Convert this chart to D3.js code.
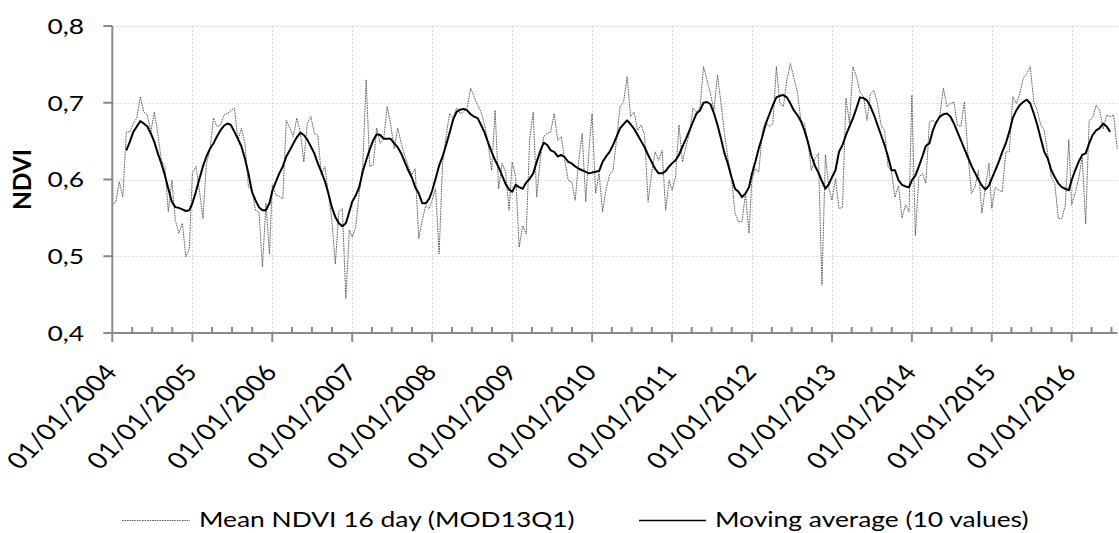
<!DOCTYPE html>
<html>
<head>
<meta charset="utf-8">
<script src="https://cdn.jsdelivr.net/npm/d3@7"></script>
<style>
  html, body { margin: 0; padding: 0; background: #ffffff; }
  svg { display: block; font-family: Lato, "Open Sans", sans-serif; }
</style>
</head>
<body>
<svg id="chart" width="1119" height="533"></svg>
<script>
// ---- Data ----
// Mean NDVI, 16-day MODIS composites (23 per year, day-of-year 1, 17, 33, ...)
const firstYear = 2004;
const compositesPerYear = 23;
const ndviValues = [
  // 2004
  0.567,0.571,0.597,0.577,0.662,0.662,0.673,0.680,0.708,0.688,0.684,0.662,0.688,0.660,0.625,0.617,0.558,0.599,0.547,0.530,0.543,0.499,0.510,
  // 2005
  0.608,0.617,0.586,0.549,0.621,0.638,0.680,0.669,0.671,0.684,0.686,0.690,0.693,0.651,0.667,0.647,0.590,0.588,0.560,0.558,0.486,0.569,0.503,
  // 2006
  0.593,0.580,0.578,0.575,0.677,0.667,0.656,0.680,0.662,0.623,0.673,0.682,0.660,0.658,0.606,0.617,0.582,0.547,0.490,0.558,0.562,0.445,0.534,
  // 2007
  0.525,0.538,0.582,0.617,0.730,0.617,0.619,0.667,0.647,0.653,0.695,0.671,0.640,0.667,0.647,0.632,0.617,0.606,0.614,0.523,0.547,0.566,0.562,
  // 2008
  0.573,0.588,0.503,0.621,0.656,0.686,0.680,0.693,0.686,0.688,0.693,0.719,0.708,0.697,0.688,0.671,0.647,0.612,0.690,0.588,0.621,0.610,0.560,
  // 2009
  0.623,0.603,0.512,0.540,0.529,0.653,0.688,0.577,0.626,0.656,0.660,0.662,0.686,0.651,0.656,0.625,0.599,0.597,0.573,0.625,0.660,0.571,0.643,
  // 2010
  0.686,0.582,0.608,0.558,0.588,0.606,0.612,0.653,0.695,0.701,0.734,0.682,0.688,0.664,0.671,0.658,0.571,0.608,0.636,0.625,0.638,0.560,0.599,
  // 2011
  0.586,0.603,0.671,0.623,0.643,0.660,0.693,0.688,0.693,0.747,0.730,0.712,0.690,0.736,0.699,0.660,0.627,0.603,0.556,0.545,0.545,0.582,0.530,
  // 2012
  0.599,0.614,0.610,0.664,0.675,0.669,0.673,0.747,0.699,0.695,0.730,0.751,0.732,0.714,0.677,0.673,0.649,0.612,0.627,0.634,0.462,0.632,0.588,
  // 2013
  0.573,0.601,0.562,0.564,0.706,0.673,0.747,0.734,0.714,0.708,0.677,0.712,0.716,0.699,0.671,0.664,0.617,0.610,0.577,0.592,0.550,0.567,0.558,
  // 2014
  0.710,0.527,0.603,0.608,0.595,0.675,0.677,0.673,0.684,0.719,0.695,0.699,0.701,0.671,0.669,0.701,0.634,0.582,0.590,0.612,0.556,0.590,0.621,
  // 2015
  0.562,0.590,0.586,0.584,0.636,0.636,0.708,0.699,0.712,0.732,0.738,0.747,0.701,0.690,0.671,0.664,0.632,0.603,0.595,0.549,0.549,0.567,0.652,
  // 2016
  0.567,0.582,0.601,0.629,0.542,0.677,0.680,0.697,0.690,0.666,0.684,0.682,0.684,0.640
];

// Moving average (10 values); starts at the 5th composite
const movingAvgStart = 4;
const movingAvgValues = [
  // 2004 (from 5th composite)
  0.638,0.649,0.662,0.669,0.676,0.673,0.669,0.660,0.649,0.634,0.621,0.606,0.588,0.571,0.564,0.563,0.561,0.559,0.560,
  // 2005
  0.569,0.584,0.601,0.617,0.630,0.640,0.647,0.656,0.664,0.670,0.673,0.671,0.662,0.653,0.643,0.627,0.608,0.584,0.573,0.564,0.560,0.560,0.569,
  // 2006
  0.585,0.597,0.608,0.617,0.630,0.638,0.647,0.655,0.661,0.658,0.652,0.643,0.634,0.621,0.610,0.598,0.582,0.564,0.551,0.543,0.539,0.543,0.558,
  // 2007
  0.571,0.579,0.590,0.610,0.625,0.639,0.651,0.659,0.658,0.653,0.653,0.653,0.647,0.642,0.634,0.623,0.612,0.603,0.590,0.582,0.569,0.569,0.575,
  // 2008
  0.585,0.601,0.618,0.630,0.645,0.661,0.678,0.688,0.691,0.692,0.690,0.685,0.682,0.680,0.671,0.661,0.648,0.636,0.625,0.616,0.605,0.594,0.587,
  // 2009
  0.584,0.593,0.590,0.588,0.596,0.601,0.608,0.623,0.637,0.648,0.645,0.638,0.636,0.630,0.632,0.629,0.623,0.621,0.617,0.614,0.612,0.610,0.608,
  // 2010
  0.609,0.610,0.611,0.623,0.630,0.636,0.645,0.656,0.667,0.672,0.677,0.672,0.666,0.658,0.650,0.642,0.632,0.623,0.614,0.608,0.608,0.611,0.617,
  // 2011
  0.621,0.625,0.632,0.643,0.653,0.664,0.675,0.686,0.690,0.700,0.701,0.698,0.686,0.671,0.653,0.634,0.620,0.603,0.588,0.584,0.577,0.582,0.590,
  // 2012
  0.607,0.623,0.641,0.656,0.673,0.685,0.697,0.707,0.709,0.710,0.707,0.699,0.690,0.684,0.676,0.664,0.649,0.631,0.618,0.609,0.598,0.588,0.594,
  // 2013
  0.603,0.612,0.636,0.645,0.658,0.669,0.680,0.693,0.707,0.706,0.703,0.695,0.684,0.671,0.658,0.645,0.630,0.612,0.612,0.599,0.593,0.591,0.590,
  // 2014
  0.599,0.605,0.617,0.630,0.644,0.647,0.664,0.675,0.682,0.685,0.686,0.682,0.673,0.662,0.651,0.640,0.629,0.618,0.609,0.600,0.592,0.587,0.592,
  // 2015
  0.601,0.612,0.623,0.636,0.647,0.662,0.680,0.690,0.697,0.701,0.704,0.699,0.686,0.671,0.653,0.636,0.627,0.612,0.603,0.595,0.590,0.588,0.586,
  // 2016
  0.599,0.612,0.623,0.632,0.634,0.647,0.658,0.664,0.667,0.673,0.669,0.662
];

const yTicks = [0.4, 0.5, 0.6, 0.7, 0.8];
const yTickLabels = ["0,4", "0,5", "0,6", "0,7", "0,8"];
const xTickLabels = ["01/01/2004","01/01/2005","01/01/2006","01/01/2007","01/01/2008","01/01/2009","01/01/2010",
                     "01/01/2011","01/01/2012","01/01/2013","01/01/2014","01/01/2015","01/01/2016"];
const seriesNames = ["Mean NDVI 16 day (MOD13Q1)", "Moving average (10 values)"];
const yTitle = "NDVI";
const axisStart = "2004-01-01";
const axisEnd = "2016-07-28";

// ---- Helpers ----
const parseLabel = d3.timeParse("%d/%m/%Y");
const parseIso = d3.timeParse("%Y-%m-%d");
function compositeDate(i) {
  const year = firstYear + Math.floor(i / compositesPerYear);
  const k = i % compositesPerYear;
  return new Date(year, 0, 1 + 16 * k);
}
const rawData = ndviValues.map((v, i) => ({ date: compositeDate(i), value: v }));
const maData = movingAvgValues.map((v, i) => ({ date: compositeDate(i + movingAvgStart), value: v }));
const tickDates = xTickLabels.map(s => parseLabel(s));

// ---- Layout ----
const svg = d3.select("#chart");
const plotLeft = 112.3, plotRight = 1117.4, plotTop = 26, plotBottom = 333;
const textStretch = 1.2;   // the reference text is horizontally widened

const x = d3.scaleTime()
  .domain([parseIso(axisStart), parseIso(axisEnd)])
  .range([plotLeft, plotRight]);
const y = d3.scaleLinear().domain([0.4, 0.8]).range([plotBottom, plotTop]);

svg.append("rect").attr("width", 1119).attr("height", 533).attr("fill", "#ffffff");

// Gridlines
const grid = svg.append("g").attr("stroke", "#d6d6d6").attr("stroke-width", 1).attr("stroke-dasharray", "2,2");
grid.selectAll("line.h").data(yTicks.filter(t => t > 0.4)).enter().append("line")
  .attr("x1", plotLeft).attr("x2", plotRight)
  .attr("y1", d => Math.round(y(d)) + 0.5).attr("y2", d => Math.round(y(d)) + 0.5);
grid.selectAll("line.v").data(tickDates.slice(1)).enter().append("line")
  .attr("x1", d => Math.round(x(d)) + 0.5).attr("x2", d => Math.round(x(d)) + 0.5)
  .attr("y1", plotTop).attr("y2", plotBottom);

// Series lines
const lineGen = d3.line().x(d => x(d.date)).y(d => y(d.value));
svg.append("path").datum(rawData)
  .attr("fill", "none").attr("stroke", "#4a4a4a").attr("stroke-width", 0.9)
  .attr("stroke-dasharray", "1.6,0.9")
  .attr("d", lineGen);
svg.append("path").datum(maData)
  .attr("fill", "none").attr("stroke", "#000000").attr("stroke-width", 2)
  .attr("stroke-linejoin", "round")
  .attr("d", lineGen);

// Axes
const axisColor = "#8a8a8a";
const axes = svg.append("g").attr("stroke", axisColor).attr("stroke-width", 2);
axes.append("line").attr("x1", plotLeft).attr("x2", plotLeft).attr("y1", plotTop).attr("y2", plotBottom);
axes.append("line").attr("x1", plotLeft - 1).attr("x2", plotRight).attr("y1", plotBottom).attr("y2", plotBottom);
axes.selectAll("line.yt").data(yTicks).enter().append("line")
  .attr("x1", plotLeft - 9).attr("x2", plotLeft)
  .attr("y1", d => y(d)).attr("y2", d => y(d));
axes.selectAll("line.xt").data(tickDates).enter().append("line")
  .attr("x1", d => x(d)).attr("x2", d => x(d))
  .attr("y1", plotBottom).attr("y2", plotBottom + 9);
const minorDates = d3.timeMonth.every(3).range(x.domain()[0], x.domain()[1]).filter(d => d.getMonth() !== 0);
axes.selectAll("line.xm").data(minorDates).enter().append("line")
  .attr("x1", d => x(d)).attr("x2", d => x(d))
  .attr("y1", plotBottom - 6).attr("y2", plotBottom);

// Y tick labels
svg.append("g").selectAll("text").data(yTicks).enter().append("text")
  .attr("transform", d => `translate(84,${y(d)}) scale(${textStretch},1)`)
  .attr("dy", "0.36em")
  .attr("text-anchor", "end")
  .attr("font-size", 22)
  .attr("fill", "#000")
  .text((d, i) => yTickLabels[i]);

// X tick labels (rotated, appear at about 45 degrees after widening)
svg.append("g").selectAll("text").data(tickDates).enter().append("text")
  .attr("transform", d => `translate(${x(d) + 6},373) scale(${textStretch},1) rotate(-50)`)
  .attr("text-anchor", "end")
  .attr("font-size", 23)
  .attr("fill", "#000")
  .text((d, i) => xTickLabels[i]);

// Y title
svg.append("text")
  .attr("transform", `translate(31,${y(0.6)}) rotate(-90)`)
  .attr("text-anchor", "middle")
  .attr("font-size", 24.5)
  .attr("font-weight", "bold")
  .attr("fill", "#000")
  .text(yTitle);

// Legend
const legend = svg.append("g");
legend.append("line").attr("x1", 122).attr("x2", 190).attr("y1", 520.5).attr("y2", 520.5)
  .attr("stroke", "#4a4a4a").attr("stroke-width", 0.9).attr("stroke-dasharray", "1.6,0.9");
legend.append("text").attr("transform", `translate(199,527) scale(${textStretch},1)`)
  .attr("font-size", 22).attr("fill", "#000").text(seriesNames[0]);
legend.append("line").attr("x1", 639).attr("x2", 706).attr("y1", 520.5).attr("y2", 520.5)
  .attr("stroke", "#000").attr("stroke-width", 1.3);
legend.append("text").attr("transform", `translate(715,527) scale(${textStretch},1)`)
  .attr("font-size", 22).attr("fill", "#000").text(seriesNames[1]);
</script>
</body>
</html>
